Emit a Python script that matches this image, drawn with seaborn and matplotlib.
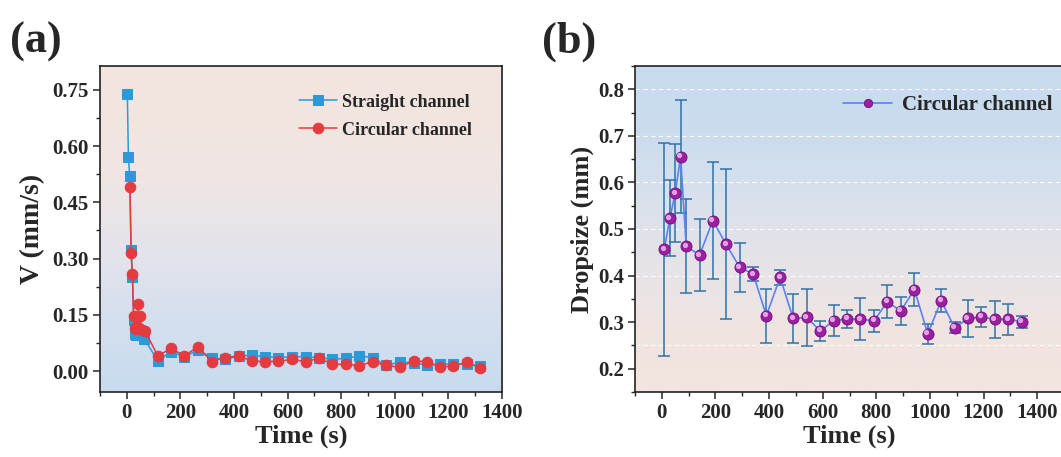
import numpy as np
import pandas as pd
import matplotlib
matplotlib.use("Agg")
import matplotlib.pyplot as plt
import seaborn as sns
from matplotlib.colors import LinearSegmentedColormap
from matplotlib.ticker import MultipleLocator
from matplotlib import transforms

# ---------------- data ----------------
straight_t = [2, 6, 11, 16, 21, 26, 31, 36, 41, 46, 56, 66,
              116, 165, 215, 265, 317, 367, 417, 466, 516, 566, 616, 668,
              718, 767, 817, 867, 917, 966, 1020, 1070, 1119, 1169, 1219, 1269, 1318]
straight_v = [0.74, 0.57, 0.52, 0.322, 0.252, 0.135, 0.100, 0.095, 0.098, 0.110, 0.095, 0.085,
              0.027, 0.052, 0.038, 0.056, 0.036, 0.031, 0.040, 0.042, 0.038, 0.036, 0.038, 0.038,
              0.036, 0.031, 0.034, 0.040, 0.036, 0.015, 0.024, 0.022, 0.016, 0.019, 0.018, 0.018, 0.014]

circular_t = [12, 16, 21, 25, 31, 36, 41, 44, 50, 56, 68,
              116, 165, 215, 265, 317, 367, 417, 466, 516, 566, 616, 668,
              718, 767, 817, 867, 917, 966, 1020, 1070, 1119, 1169, 1219, 1269, 1318]
circular_v = [0.49, 0.315, 0.258, 0.148, 0.116, 0.112, 0.178, 0.114, 0.146, 0.110, 0.107,
              0.040, 0.061, 0.040, 0.065, 0.025, 0.036, 0.040, 0.027, 0.025, 0.026, 0.031, 0.025,
              0.034, 0.018, 0.018, 0.014, 0.025, 0.015, 0.010, 0.027, 0.025, 0.010, 0.014, 0.023, 0.008]

drop_t = [9, 30, 50, 70, 91, 141, 190, 240, 290, 341, 390, 441, 490, 541, 591,
          641, 691, 741, 792, 841, 891, 942, 992, 1042, 1092, 1142, 1192, 1242, 1292, 1342]
drop_size = [0.456, 0.523, 0.577, 0.655, 0.463, 0.444, 0.518, 0.467, 0.418, 0.403,
             0.314, 0.396, 0.308, 0.310, 0.281, 0.303, 0.307, 0.306, 0.303, 0.344,
             0.324, 0.370, 0.275, 0.346, 0.288, 0.308, 0.311, 0.306, 0.306, 0.301]
drop_err = [0.229, 0.082, 0.105, 0.121, 0.101, 0.078, 0.125, 0.161, 0.053, 0.015,
            0.058, 0.017, 0.052, 0.062, 0.022, 0.033, 0.020, 0.045, 0.024, 0.035,
            0.031, 0.036, 0.021, 0.025, 0.012, 0.040, 0.022, 0.039, 0.033, 0.013]

v_ticks = [0.00, 0.15, 0.30, 0.45, 0.60, 0.75]
d_ticks = [0.2, 0.3, 0.4, 0.5, 0.6, 0.7, 0.8]
t_ticks_a = [0, 200, 400, 600, 800, 1000, 1200, 1400]
t_ticks_b = [0, 200, 400, 600, 800, 1000, 1200, 1400]

# ---------------- style ----------------
sns.set_theme(style="ticks")
plt.rcParams["font.family"] = ["Liberation Serif", "DejaVu Serif"]
plt.rcParams["font.weight"] = "bold"
plt.rcParams["axes.labelweight"] = "bold"
plt.rcParams["axes.linewidth"] = 1.2

fig = plt.figure(figsize=(10.61, 4.57), dpi=100)
W, H = 1061, 457
ax1 = fig.add_axes([100 / W, (H - 392) / H, 402 / W, 326 / H])
ax2 = fig.add_axes([635 / W, (H - 392) / H, 429 / W, 326 / H])


def gradient(ax, colors):
    cmap = LinearSegmentedColormap.from_list("g", colors)
    grad = np.linspace(0, 1, 256).reshape(-1, 1)
    ax.imshow(grad, extent=[0, 1, 0, 1], transform=ax.transAxes, aspect="auto",
              cmap=cmap, origin="lower", zorder=0, interpolation="bilinear")


# ---- panel (a) ----
gradient(ax1, ["#c8dbef", "#d3dfee", "#e2e3ec", "#ede5e5", "#f2e6e1", "#f3e5e0"])
df_s = pd.DataFrame({"t": straight_t, "v": straight_v})
df_c = pd.DataFrame({"t": circular_t, "v": circular_v})
sns.lineplot(data=df_s, x="t", y="v", ax=ax1, color="#2a9ad8", marker="s", markersize=6.8,
             markeredgecolor="#2a9ad8", linewidth=1.1, sort=False, label="Straight channel",
             zorder=3)
sns.lineplot(data=df_c, x="t", y="v", ax=ax1, color="#e33b3f", marker="o", markersize=7.6,
             markeredgecolor="#e33b3f", linewidth=1.1, sort=False, label="Circular channel",
             zorder=4)
ax1.set_xlim(-100, 1400)
ax1.set_ylim(-0.056, 0.814)
ax1.set_xticks(t_ticks_a)
ax1.set_yticks(v_ticks)
ax1.set_yticklabels([f"{v:.2f}" for v in v_ticks])
ax1.xaxis.set_minor_locator(MultipleLocator(100))
ax1.yaxis.set_minor_locator(MultipleLocator(0.075))
ax1.set_xlabel("Time (s)", fontsize=19, fontweight="bold", labelpad=1)
ax1.set_ylabel("V (mm/s)", fontsize=20, fontweight="bold", labelpad=5)
ax1.legend(loc="upper left", bbox_to_anchor=(0.495, 0.915), frameon=False,
           prop={"size": 13, "weight": "bold"}, handlelength=2.1,
           handletextpad=0.3, labelspacing=0.6, borderpad=0, borderaxespad=0)

# ---- panel (b) ----
gradient(ax2, ["#f3e4df", "#f0e4e1", "#e6e3e8", "#d8e1ec", "#cbdcee", "#c8dbee"])
for yv in [0.25, 0.4, 0.5, 0.6, 0.7, 0.8]:
    ax2.axhline(yv, color="white", linestyle=(0, (4, 3)), linewidth=0.8, alpha=0.9, zorder=1)
ax2.errorbar(drop_t, drop_size, yerr=drop_err, fmt="none", ecolor="#2f72a6",
             elinewidth=1.1, capsize=4, capthick=1.1, zorder=2)
df_d = pd.DataFrame({"t": drop_t, "d": drop_size})
sns.lineplot(data=df_d, x="t", y="d", ax=ax2, color="#5a82f0", marker="o", markersize=8,
             markerfacecolor="#9b1fa0", markeredgecolor="#6e1075", markeredgewidth=0.6,
             linewidth=1.2, sort=False, label="Circular channel", zorder=3)
hl = transforms.offset_copy(ax2.transData, fig=fig, x=-1.1, y=1.1, units="points")
ax2.plot(drop_t, drop_size, linestyle="none", marker="o", markersize=2.8,
         color="#eab2ee", alpha=0.85, transform=hl, zorder=4)
ax2.set_xlim(-100, 1500)
ax2.set_ylim(0.15, 0.85)
ax2.set_xticks(t_ticks_b)
ax2.set_yticks(d_ticks)
ax2.xaxis.set_minor_locator(MultipleLocator(100))
ax2.yaxis.set_minor_locator(MultipleLocator(0.05))
ax2.set_xlabel("Time (s)", fontsize=19, fontweight="bold", labelpad=1)
ax2.set_ylabel("Dropsize (mm)", fontsize=19, fontweight="bold", labelpad=3)
ax2.legend(loc="upper left", bbox_to_anchor=(0.485, 0.91), frameon=False,
           prop={"size": 15, "weight": "bold"}, handlelength=2.35, markerscale=0.75,
           handletextpad=0.5, borderpad=0, borderaxespad=0)

for ax in (ax1, ax2):
    ax.tick_params(axis="both", which="major", direction="out", length=5, width=1.1,
                   labelsize=15, pad=3)
    ax.tick_params(axis="both", which="minor", direction="out", length=3, width=1.0)
    for lab in ax.get_xticklabels() + ax.get_yticklabels():
        lab.set_fontweight("bold")
    for sp in ax.spines.values():
        sp.set_visible(True)
        sp.set_color("#222222")
        sp.set_linewidth(1.2)
    ax.set_axisbelow(False)

fig.text(10 / W, 1 - 42 / H, "(a)", fontsize=32, fontweight="bold", va="center", ha="left")
fig.text(542 / W, 1 - 42 / H, "(b)", fontsize=32, fontweight="bold", va="center", ha="left")

fig.savefig("out.png", dpi=100)
